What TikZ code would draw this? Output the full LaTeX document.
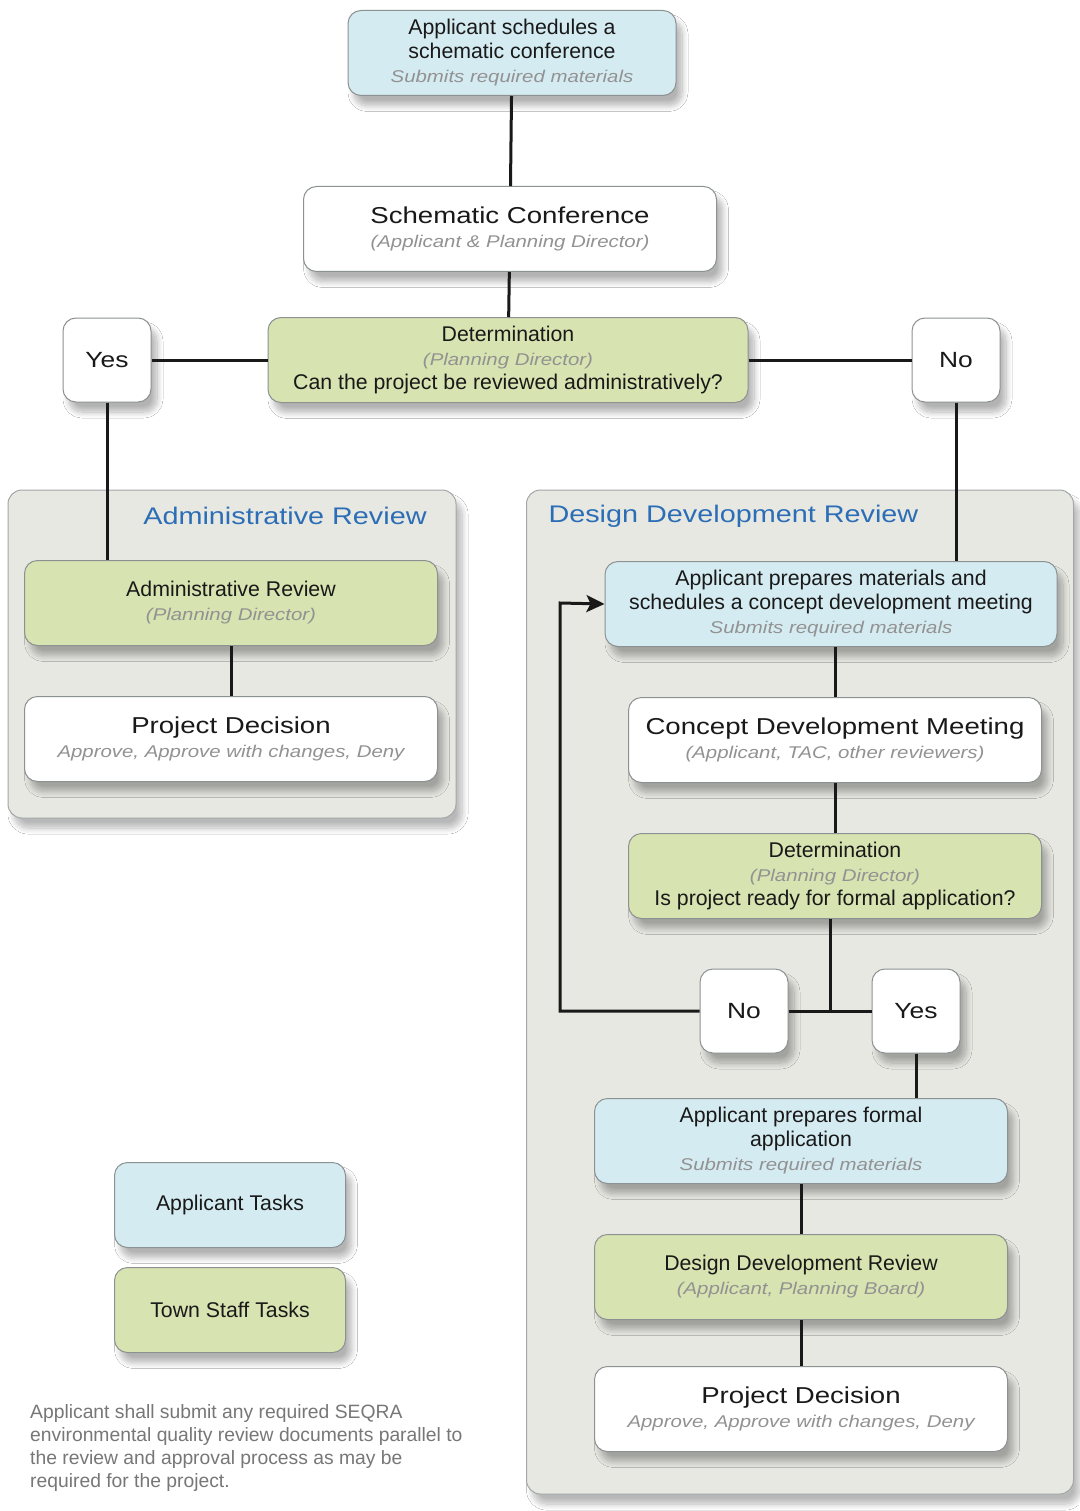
\documentclass[tikz,border=0pt]{standalone}
\usepackage{fontspec}
\setmainfont{Liberation Sans}
\newfontfamily\widefont[FakeStretch=1.2]{Liberation Sans}
\usepackage{tikz}
\usetikzlibrary{shapes.geometric, arrows.meta, shadows.blur}
\definecolor{applblue}{HTML}{D5EBF2}
\definecolor{staffgreen}{HTML}{D7E3B0}
\definecolor{panelgray}{HTML}{E8E8E3}
\definecolor{edgegray}{HTML}{8C9192}
\definecolor{subgray}{HTML}{929292}
\definecolor{headblue}{HTML}{2C6EB6}
\definecolor{notegray}{HTML}{777777}
\newcommand{\titletxt}{\widefont\fontsize{23}{24}\selectfont}
\newcommand{\subtxt}{\widefont\itshape\fontsize{17}{20}\selectfont\color{subgray}}
\tikzstyle{box} = [rectangle, rounded corners=13pt, draw=edgegray, line width=1pt, minimum width=413pt, minimum height=85pt, align=center, text=black!90, font=\fontsize{21.3}{24}\selectfont, blur shadow={shadow xshift=6pt, shadow yshift=-10pt, shadow blur radius=6pt, shadow blur steps=10, shadow opacity=30}]
\tikzstyle{applicant} = [box, fill=applblue]
\tikzstyle{staff} = [box, fill=staffgreen]
\tikzstyle{meeting} = [box, fill=white]
\tikzstyle{answer} = [box, fill=white, minimum width=88pt, minimum height=84pt, font=\widefont\fontsize{22}{24}\selectfont]
\tikzstyle{panel} = [rectangle, rounded corners=14pt, draw=edgegray!80, line width=1pt, fill=panelgray, blur shadow={shadow xshift=6pt, shadow yshift=-10pt, shadow blur radius=6pt, shadow blur steps=10, shadow opacity=28}]
\tikzstyle{heading} = [text=headblue, font=\widefont\fontsize{24}{26}\selectfont]
\tikzstyle{link} = [line width=3pt, black!90]
\tikzstyle{arrow} = [link, -{Stealth[length=18pt, width=17pt, inset=4pt]}]

\begin{document}
\begin{tikzpicture}[x=1pt, y=-1pt, node distance=136pt]
\fill[white] (0,0) rectangle (1079,1511);
\useasboundingbox (0,0) rectangle (1079,1511);

% the two review panels
\node (adminpanel) [panel, minimum width=448pt, minimum height=328pt] at (232,654) {};
\node (designpanel) [panel, minimum width=547pt, minimum height=1004pt] at (800,992) {};
\node (adminhead) [heading] at (285,516) {Administrative Review};
\node (designhead) [heading, anchor=west] at (545,516) {Design Development Review};

% schematic stage
\node (sched) [applicant, minimum width=328pt] at (512,53) {Applicant schedules a\\schematic conference\\{\subtxt Submits required materials}};
\node (sconf) [meeting] at (510,229) {{\titletxt Schematic Conference}\\{\subtxt (Applicant \& Planning Director)}};
\node (det) [staff, minimum width=480pt] at (508,360) {Determination\\{\subtxt (Planning Director)}\\Can the project be reviewed administratively?};
\node (yes) [answer] at (107,360) {Yes};
\node (no) [answer] at (956,360) {No};

% administrative review
\node (adminrev) [staff] at (231,603) {Administrative Review\\{\subtxt (Planning Director)}};
\node (pdec1) [meeting, below of=adminrev] {{\titletxt Project Decision}\\{\subtxt Approve, Approve with changes, Deny}};

% design development review
\node (prep) [applicant, minimum width=452pt] at (831,604) {Applicant prepares materials and\\schedules a concept development meeting\\{\subtxt Submits required materials}};
\node (cdm) [meeting, below of=prep, xshift=4pt] {{\titletxt Concept Development Meeting}\\{\subtxt (Applicant, TAC, other reviewers)}};
\node (det2) [staff, below of=cdm] {Determination\\{\subtxt (Planning Director)}\\Is project ready for formal application?};
\node (no2) [answer] at (744,1011) {No};
\node (yes2) [answer] at (916,1011) {Yes};
\coordinate (split) at (830,1011);
\coordinate (back) at (560,603);
\node (formal) [applicant] at (801,1141) {Applicant prepares formal\\application\\{\subtxt Submits required materials}};
\node (ddr) [staff, below of=formal] {Design Development Review\\{\subtxt (Applicant, Planning Board)}};
\node (pdec2) [meeting, below of=ddr, yshift=4pt] {{\titletxt Project Decision}\\{\subtxt Approve, Approve with changes, Deny}};

% legend and note
\node (legappl) [applicant, minimum width=231pt] at (230,1205) {Applicant Tasks};
\node (legstaff) [staff, minimum width=231pt] at (230,1310) {Town Staff Tasks};
\node (note) [anchor=north west, align=left, inner sep=0pt, text=notegray, font=\fontsize{19.3}{23}\selectfont] at (30,1404) {Applicant shall submit any required SEQRA\\environmental quality review documents parallel to\\the review and approval process as may be\\required for the project.};

\draw [link] (sched) -- (sconf);
\draw [link] (sconf) -- (det);
\draw [link] (det) -- (yes);
\draw [link] (det) -- (no);
\draw [link] (yes.south) -- (yes.south |- adminrev.north);
\draw [link] (no.south) -- (no.south |- prep.north);
\draw [link] (adminrev) -- (pdec1);
\draw [link] (prep.south -| cdm) -- (cdm);
\draw [link] (cdm) -- (det2);
\draw [link] (det2.south -| split) -- (split);
\draw [link] (no2) -- (yes2);
\draw [arrow] (no2.west) -| (back) -- (prep.west);
\draw [link] (yes2.south) -- (yes2.south |- formal.north);
\draw [link] (formal) -- (ddr);
\draw [link] (ddr) -- (pdec2);
\end{tikzpicture}
\end{document}
